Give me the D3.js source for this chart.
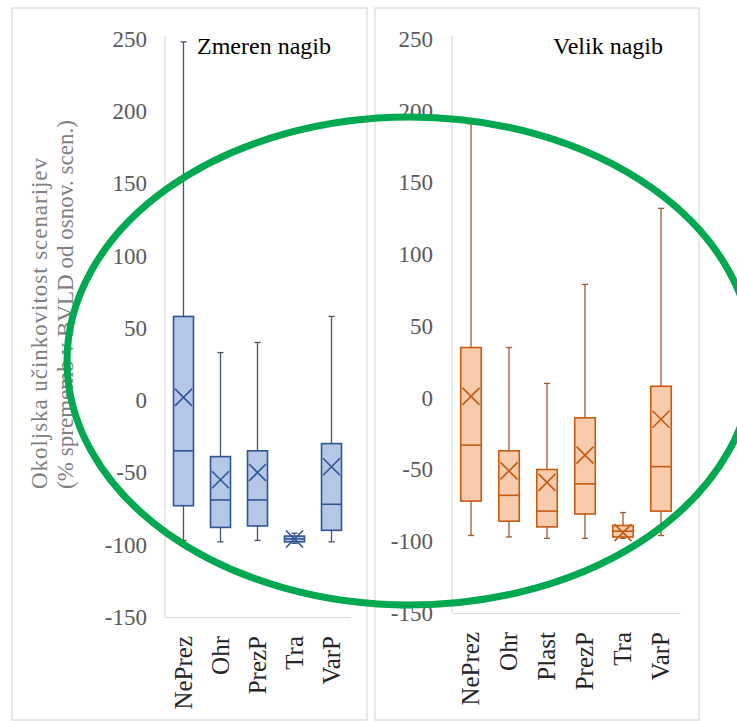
<!DOCTYPE html>
<html>
<head>
<meta charset="utf-8">
<script src="https://cdn.jsdelivr.net/npm/d3@7"></script>
<style>
  html, body { margin: 0; padding: 0; background: #fff; }
  svg { display: block; }
  text { font-family: "Liberation Serif", "DejaVu Serif", serif; }
</style>
</head>
<body>
<svg id="chart" width="737" height="721"></svg>
<script>
// Y axis ticks shared by both panels
const yTicks = [250, 200, 150, 100, 50, 0, -50, -100, -150];

// Panel 1: moderate slope (Zmeren nagib)
const catsModerate = ["NePrez", "Ohr", "PrezP", "Tra", "VarP"];
const minModerate  = [-97, -98, -97, -99, -98];
const q1Moderate   = [-73, -88, -87, -98, -90];
const medModerate  = [-35, -69, -69, -96, -72];
const q3Moderate   = [58, -39, -35, -94, -30];
const maxModerate  = [248, 33, 40, -92, 58];
const meanModerate = [2, -55, -50, -96, -46];

// Panel 2: steep slope (Velik nagib)
const catsSteep = ["NePrez", "Ohr", "Plast", "PrezP", "Tra", "VarP"];
const minSteep  = [-96, -97, -98, -98, -98, -96];
const q1Steep   = [-72, -86, -90, -81, -97, -79];
const medSteep  = [-33, -68, -79, -60, -93, -48];
const q3Steep   = [35, -37, -50, -14, -89, 8];
const maxSteep  = [191, 35, 10, 79, -80, 132];
const meanSteep = [1, -51, -59, -40, -94, -15];

const yTitle1 = "Okoljska  učinkovitost  scenarijev";
const yTitle2 = "(% sprememb v BVLD od osnov. scen.)";

const svg = d3.select("#chart");

function rows(cats, mn, q1, md, q3, mx, mean) {
  return cats.map((c, i) => ({ cat: c, min: mn[i], q1: q1[i], med: md[i], q3: q3[i], max: mx[i], mean: mean[i] }));
}

function drawPanel(opt) {
  const g = svg.append("g");
  // panel frame
  g.append("rect")
    .attr("x", opt.frame[0]).attr("y", opt.frame[1])
    .attr("width", opt.frame[2]).attr("height", opt.frame[3])
    .attr("fill", "#fff").attr("stroke", "#d9d9d9").attr("stroke-width", 1.2);

  const y = d3.scaleLinear().domain([-150, 250]).range([opt.bottom, opt.top]);
  const x = d3.scaleBand().domain(opt.data.map(d => d.cat)).range([opt.left, opt.right]).padding(0);

  // y axis: light line, labels only (plain hyphen for negatives)
  const yAxis = d3.axisLeft(y).tickValues(yTicks).tickSize(0).tickPadding(opt.tickPad)
    .tickFormat(d => String(d));
  const ya = g.append("g").attr("transform", `translate(${opt.left},0)`).call(yAxis);
  ya.attr("font-family", null);
  ya.select(".domain").attr("stroke", "#d9d9d9").attr("stroke-width", 1.2)
    .attr("d", `M0,${opt.top - 3}V${opt.bottom}`);
  ya.selectAll("text").attr("font-size", 23).attr("fill", "#595959");

  // x axis: line with rotated category labels
  const xAxis = d3.axisBottom(x).tickSize(0).tickPadding(0);
  const xa = g.append("g").attr("transform", `translate(0,${opt.bottom})`).call(xAxis);
  xa.attr("font-family", null);
  xa.select(".domain").attr("stroke", "#d9d9d9").attr("stroke-width", 1.2);
  xa.selectAll("text")
    .attr("font-size", 25).attr("fill", "#262626")
    .attr("text-anchor", "end")
    .attr("dy", null).attr("y", 0)
    .attr("transform", "translate(8,19) rotate(-90)");

  const bw = x.bandwidth() * 0.54;
  const cap = 6;
  const boxes = g.selectAll(".box").data(opt.data).join("g")
    .attr("transform", d => `translate(${x(d.cat) + x.bandwidth() / 2},0)`);

  // whiskers
  boxes.append("line").attr("x1", 0).attr("x2", 0)
    .attr("y1", d => y(d.max)).attr("y2", d => y(d.q3))
    .attr("stroke", opt.whisker).attr("stroke-width", 1.3);
  boxes.append("line").attr("x1", 0).attr("x2", 0)
    .attr("y1", d => y(d.q1)).attr("y2", d => y(d.min))
    .attr("stroke", opt.whisker).attr("stroke-width", 1.3);
  boxes.append("line").attr("x1", -cap / 2).attr("x2", cap / 2)
    .attr("y1", d => y(d.max)).attr("y2", d => y(d.max))
    .attr("stroke", opt.whisker).attr("stroke-width", 1.3);
  boxes.append("line").attr("x1", -cap / 2).attr("x2", cap / 2)
    .attr("y1", d => y(d.min)).attr("y2", d => y(d.min))
    .attr("stroke", opt.whisker).attr("stroke-width", 1.3);

  // box
  boxes.append("rect")
    .attr("x", -bw / 2).attr("width", bw)
    .attr("y", d => y(d.q3)).attr("height", d => y(d.q1) - y(d.q3))
    .attr("fill", opt.fill).attr("stroke", opt.stroke).attr("stroke-width", 1.6);
  // median
  boxes.append("line").attr("x1", -bw / 2).attr("x2", bw / 2)
    .attr("y1", d => y(d.med)).attr("y2", d => y(d.med))
    .attr("stroke", opt.stroke).attr("stroke-width", 1.6);
  // mean marker (x)
  const m = 8.5;
  boxes.append("path")
    .attr("d", d => `M${-m},${y(d.mean) - m}L${m},${y(d.mean) + m}M${m},${y(d.mean) - m}L${-m},${y(d.mean) + m}`)
    .attr("stroke", opt.stroke).attr("stroke-width", 1.6).attr("fill", "none");

  // panel title
  g.append("text").attr("x", opt.titleX).attr("y", opt.titleY)
    .attr("font-size", 24).attr("fill", "#000").text(opt.title);
}

drawPanel({
  frame: [12, 8, 355, 712],
  left: 165, right: 350, top: 39, bottom: 617, tickPad: 18,
  data: rows(catsModerate, minModerate, q1Moderate, medModerate, q3Moderate, maxModerate, meanModerate),
  fill: "#b4c7e7", stroke: "#2f5597", whisker: "#44546a",
  title: "Zmeren nagib", titleX: 197, titleY: 54
});

drawPanel({
  frame: [375, 8, 324, 712],
  left: 452, right: 680, top: 39, bottom: 613, tickPad: 19,
  data: rows(catsSteep, minSteep, q1Steep, medSteep, q3Steep, maxSteep, meanSteep),
  fill: "#f8cbad", stroke: "#c55a11", whisker: "#9c5a32",
  title: "Velik nagib", titleX: 553, titleY: 54
});

// y axis title (two lines, rotated)
const yt = svg.append("g").attr("transform", "translate(0,489) rotate(-90)");
yt.append("text").attr("x", 0).attr("y", 47)
  .attr("font-size", 23).attr("fill", "#7f7f7f")
  .attr("textLength", 331).attr("lengthAdjust", "spacing").text(yTitle1);
yt.append("text").attr("x", 0).attr("y", 73)
  .attr("font-size", 23).attr("fill", "#7f7f7f")
  .attr("textLength", 369).attr("lengthAdjust", "spacing").text(yTitle2);

// highlight ellipse
svg.append("ellipse")
  .attr("cx", 410).attr("cy", 361).attr("rx", 343).attr("ry", 244)
  .attr("fill", "none").attr("stroke", "#00a84f").attr("stroke-width", 7);
</script>
</body>
</html>
